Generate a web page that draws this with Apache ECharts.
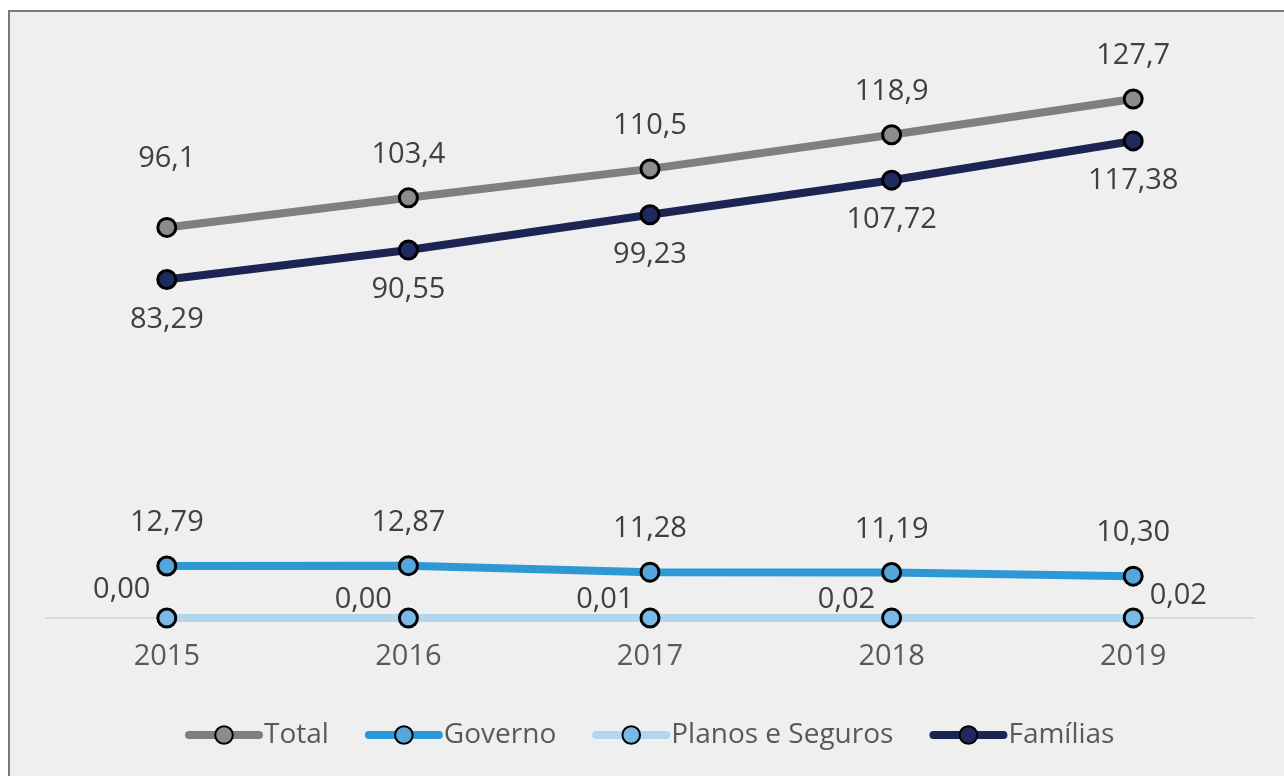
<!DOCTYPE html>
<html>
<head>
<meta charset="utf-8">
<script src="https://cdn.jsdelivr.net/npm/echarts@6/dist/echarts.min.js"></script>
<style>
html,body{margin:0;padding:0;background:#ffffff;width:1284px;height:776px;overflow:hidden;}
#frame{position:absolute;left:8px;top:10px;width:1276px;height:766px;background:#eeefee;border-left:2px solid #7a7a7a;border-top:2px solid #7a7a7a;box-sizing:border-box;}
#chart{position:absolute;left:0;top:0;width:1284px;height:776px;}
</style>
</head>
<body>
<div id="frame"></div>
<div id="chart"></div>
<script>
const categories = ['2015', '2016', '2017', '2018', '2019'];
const total = [96.1, 103.4, 110.5, 118.9, 127.7];
const governo = [12.79, 12.87, 11.28, 11.19, 10.30];
const planos = [0.00, 0.00, 0.01, 0.02, 0.02];
const familias = [83.29, 90.55, 99.23, 107.72, 117.38];
const totalLabels = ['96,1', '103,4', '110,5', '118,9', '127,7'];
const governoLabels = ['12,79', '12,87', '11,28', '11,19', '10,30'];
const planosLabels = ['0,00', '0,00', '0,01', '0,02', '0,02'];
const familiasLabels = ['83,29', '90,55', '99,23', '107,72', '117,38'];

const FONT = 'Open Sans';
const labelBase = {show: true, fontFamily: FONT, fontSize: 29, color: '#404040'};

function mk(values, labels, labelFn) {
  return values.map((v, i) => ({value: v, label: Object.assign({}, labelBase, {formatter: labels[i]}, labelFn(i))}));
}

const chart = echarts.init(document.getElementById('chart'), null, {renderer: 'canvas'});
const sym = {symbol: 'circle', symbolSize: 18};
chart.setOption({
  backgroundColor: 'transparent',
  animation: false,
  grid: {left: 46, right: 30, top: 49, bottom: 158},
  legend: {
    top: 716, left: 180, itemWidth: 70, itemHeight: 22, itemGap: 36,
    lineStyle: {width: 8, cap: 'round'},
    textStyle: {fontFamily: FONT, fontSize: 28, color: '#595959', padding: [0,0,0,0]},
    data: ['Total', 'Governo', 'Planos e Seguros', 'Famílias']
  },
  xAxis: {
    type: 'category', data: categories, boundaryGap: true,
    axisLine: {show: true, lineStyle: {color: '#d9d9d9', width: 2}},
    axisTick: {show: false},
    axisLabel: {fontFamily: FONT, fontSize: 29, color: '#595959', margin: 24}
  },
  yAxis: {type: 'value', min: 0, max: 140, show: false, splitLine: {show: false}},
  series: [
    Object.assign({name: 'Total', type: 'line', z: 3,
      lineStyle: {color: '#7f7f7f', width: 8},
      itemStyle: {color: '#8c8c8c', borderColor: '#000', borderWidth: 3},
      data: mk(total, totalLabels, i => ({position: 'top', distance: i === 0 ? 44 : 18}))}, sym),
    Object.assign({name: 'Governo', type: 'line', z: 3,
      lineStyle: {color: '#2e97d6', width: 8},
      itemStyle: {color: '#56a6de', borderColor: '#000', borderWidth: 3},
      data: mk(governo, governoLabels, i => ({position: 'top', distance: 18}))}, sym),
    Object.assign({name: 'Planos e Seguros', type: 'line', z: 2,
      lineStyle: {color: '#b4d5ee', width: 8},
      itemStyle: {color: '#7ab8e6', borderColor: '#000', borderWidth: 3},
      data: mk(planos, planosLabels, i => (i === 4 ? {position: 'right', distance: 6, offset: [0, -22]} : {position: 'left', distance: 6, offset: [0, i === 0 ? -28 : -18]}))}, sym),
    Object.assign({name: 'Famílias', type: 'line', z: 3,
      lineStyle: {color: '#1b2452', width: 8},
      itemStyle: {color: '#1f2a5e', borderColor: '#000', borderWidth: 3},
      data: mk(familias, familiasLabels, i => ({position: 'bottom', distance: 15}))}, sym)
  ]
});
</script>
</body>
</html>
